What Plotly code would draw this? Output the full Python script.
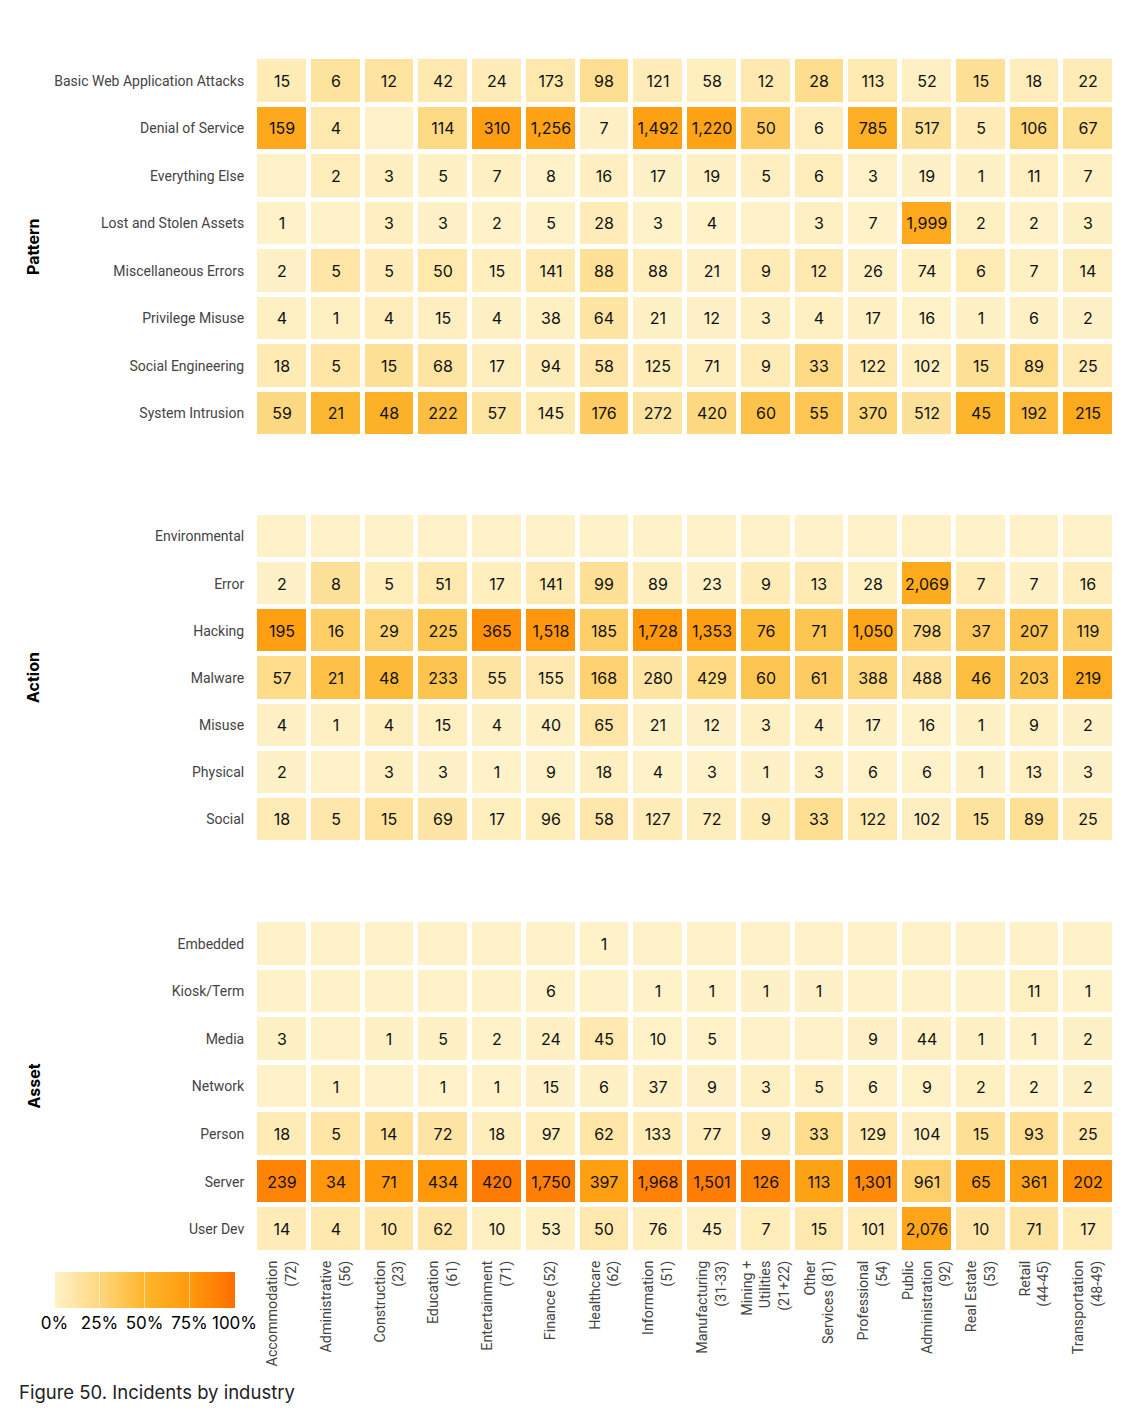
import plotly.graph_objects as go
from plotly.subplots import make_subplots

industries = [
    "Accommodation<br>(72)", "Administrative<br>(56)", "Construction<br>(23)",
    "Education<br>(61)", "Entertainment<br>(71)", "Finance (52)",
    "Healthcare<br>(62)", "Information<br>(51)", "Manufacturing<br>(31-33)",
    "Mining +<br>Utilities<br>(21+22)", "Other<br>Services (81)",
    "Professional<br>(54)", "Public<br>Administration<br>(92)",
    "Real Estate<br>(53)", "Retail<br>(44-45)", "Transportation<br>(48-49)",
]

pattern_rows = ["Basic Web Application Attacks", "Denial of Service", "Everything Else",
                "Lost and Stolen Assets", "Miscellaneous Errors", "Privilege Misuse",
                "Social Engineering", "System Intrusion"]
pattern_vals = [
    [15, 6, 12, 42, 24, 173, 98, 121, 58, 12, 28, 113, 52, 15, 18, 22],
    [159, 4, 0, 114, 310, 1256, 7, 1492, 1220, 50, 6, 785, 517, 5, 106, 67],
    [0, 2, 3, 5, 7, 8, 16, 17, 19, 5, 6, 3, 19, 1, 11, 7],
    [1, 0, 3, 3, 2, 5, 28, 3, 4, 0, 3, 7, 1999, 2, 2, 3],
    [2, 5, 5, 50, 15, 141, 88, 88, 21, 9, 12, 26, 74, 6, 7, 14],
    [4, 1, 4, 15, 4, 38, 64, 21, 12, 3, 4, 17, 16, 1, 6, 2],
    [18, 5, 15, 68, 17, 94, 58, 125, 71, 9, 33, 122, 102, 15, 89, 25],
    [59, 21, 48, 222, 57, 145, 176, 272, 420, 60, 55, 370, 512, 45, 192, 215],
]

action_rows = ["Environmental", "Error", "Hacking", "Malware", "Misuse", "Physical", "Social"]
action_vals = [
    [0] * 16,
    [2, 8, 5, 51, 17, 141, 99, 89, 23, 9, 13, 28, 2069, 7, 7, 16],
    [195, 16, 29, 225, 365, 1518, 185, 1728, 1353, 76, 71, 1050, 798, 37, 207, 119],
    [57, 21, 48, 233, 55, 155, 168, 280, 429, 60, 61, 388, 488, 46, 203, 219],
    [4, 1, 4, 15, 4, 40, 65, 21, 12, 3, 4, 17, 16, 1, 9, 2],
    [2, 0, 3, 3, 1, 9, 18, 4, 3, 1, 3, 6, 6, 1, 13, 3],
    [18, 5, 15, 69, 17, 96, 58, 127, 72, 9, 33, 122, 102, 15, 89, 25],
]

asset_rows = ["Embedded", "Kiosk/Term", "Media", "Network", "Person", "Server", "User Dev"]
asset_vals = [
    [0, 0, 0, 0, 0, 0, 1, 0, 0, 0, 0, 0, 0, 0, 0, 0],
    [0, 0, 0, 0, 0, 6, 0, 1, 1, 1, 1, 0, 0, 0, 11, 1],
    [3, 0, 1, 5, 2, 24, 45, 10, 5, 0, 0, 9, 44, 1, 1, 2],
    [0, 1, 0, 1, 1, 15, 6, 37, 9, 3, 5, 6, 9, 2, 2, 2],
    [18, 5, 14, 72, 18, 97, 62, 133, 77, 9, 33, 129, 104, 15, 93, 25],
    [239, 34, 71, 434, 420, 1750, 397, 1968, 1501, 126, 113, 1301, 961, 65, 361, 202],
    [14, 4, 10, 62, 10, 53, 50, 76, 45, 7, 15, 101, 2076, 10, 71, 17],
]

panel_titles = ["Pattern", "Action", "Asset"]
colorbar_ticks = [0, 0.25, 0.5, 0.75, 1.0]
colorbar_labels = ["0%", "25%", "50%", "75%", "100%"]

FONT = "Inter"
LFONT = "Roboto"

W, H = 1125, 1425
# target pixel geometry (reference); the rendered page is offset by OFF px
OFF = 10
ML, MR, MT, MB = 257 - OFF, 8 + OFF, 59 - OFF, 170 + OFF
PW = W - ML - MR
PH = H - MT - MB
TOP_PX = MT + OFF
LEFT_PX = ML + OFF


def py(pix):
    """reference pixel y -> paper y"""
    return 1 - (pix - TOP_PX) / PH


def px(pix):
    return (pix - LEFT_PX) / PW


def shares(vals):
    ncol = len(vals[0])
    totals = [sum(r[c] for r in vals) for c in range(ncol)]
    return [[(r[c] / totals[c]) if totals[c] else 0 for c in range(ncol)] for r in vals]


def labels(vals):
    return [[(f"{v:,}" if v else "") for v in r] for r in vals]


fig = make_subplots(rows=3, cols=1, shared_xaxes=False)

panels = [(pattern_rows, pattern_vals), (action_rows, action_vals), (asset_rows, asset_vals)]
for i, (rows, vals) in enumerate(panels):
    fig.add_trace(go.Heatmap(
        x=industries, y=rows, z=shares(vals), text=labels(vals),
        texttemplate="%{text}", textfont=dict(family=FONT, size=16, color="#111"),
        coloraxis="coloraxis", xgap=5, ygap=5, hoverinfo="skip",
    ), row=i + 1, col=1)

px_ranges = [(59, 439), (515, 845), (922, 1255)]
for i, (top, bot) in enumerate(px_ranges):
    yk = "yaxis" if i == 0 else f"yaxis{i+1}"
    xk = "xaxis" if i == 0 else f"xaxis{i+1}"
    fig.layout[yk].update(domain=[max(0, py(bot)), min(1, py(top))], autorange="reversed",
                          showgrid=False, zeroline=False, showline=False,
                          ticks="outside", ticklen=7, tickcolor="rgba(0,0,0,0)",
                          tickfont=dict(family=LFONT, size=14, color="#444"))
    fig.layout[xk].update(domain=[0, 1], showgrid=False, zeroline=False, showline=False,
                          showticklabels=(i == 2), tickangle=-90,
                          ticks="outside", ticklen=1, tickcolor="rgba(0,0,0,0)",
                          tickfont=dict(family=LFONT, size=14.3, color="#444"))
    mid = (top + bot) / 2
    fig.add_annotation(text=f"<b>{panel_titles[i]}</b>", xref="paper", yref="paper",
                       x=px(35), y=py(mid), textangle=-90,
                       showarrow=False, font=dict(family=FONT, size=16, color="#000"),
                       xanchor="center", yanchor="middle")

fig.add_annotation(text="Figure 50. Incidents by industry", xref="paper", yref="paper",
                   x=px(19), y=py(1394), showarrow=False,
                   xanchor="left", yanchor="middle",
                   font=dict(family=FONT, size=18.5, color="#222"))

fig.update_layout(
    width=W, height=H, margin=dict(l=ML, r=MR, t=MT, b=MB, autoexpand=False),
    paper_bgcolor="white", plot_bgcolor="white",
    font=dict(family=FONT),
    coloraxis=dict(
        cmin=0, cmax=1,
        colorscale=[[0, "#FFF2C9"], [0.25, "#FED77C"], [0.5, "#FDB52C"],
                    [0.75, "#FF9A0C"], [1, "#FF6E00"]],
        colorbar=dict(
            orientation="h", lenmode="pixels", len=180, thickness=36,
            xpad=0, ypad=0,
            x=px(146.5), xanchor="center",
            y=py(1274), yanchor="top",
            outlinewidth=0, tickvals=colorbar_ticks, ticktext=colorbar_labels,
            tickangle=0,
            ticks="inside", ticklen=36, tickwidth=1, tickcolor="rgba(255,255,255,0.5)",
            tickfont=dict(family=FONT, size=17, color="#000"),
        ),
    ),
)

fig.write_html("out.html")
